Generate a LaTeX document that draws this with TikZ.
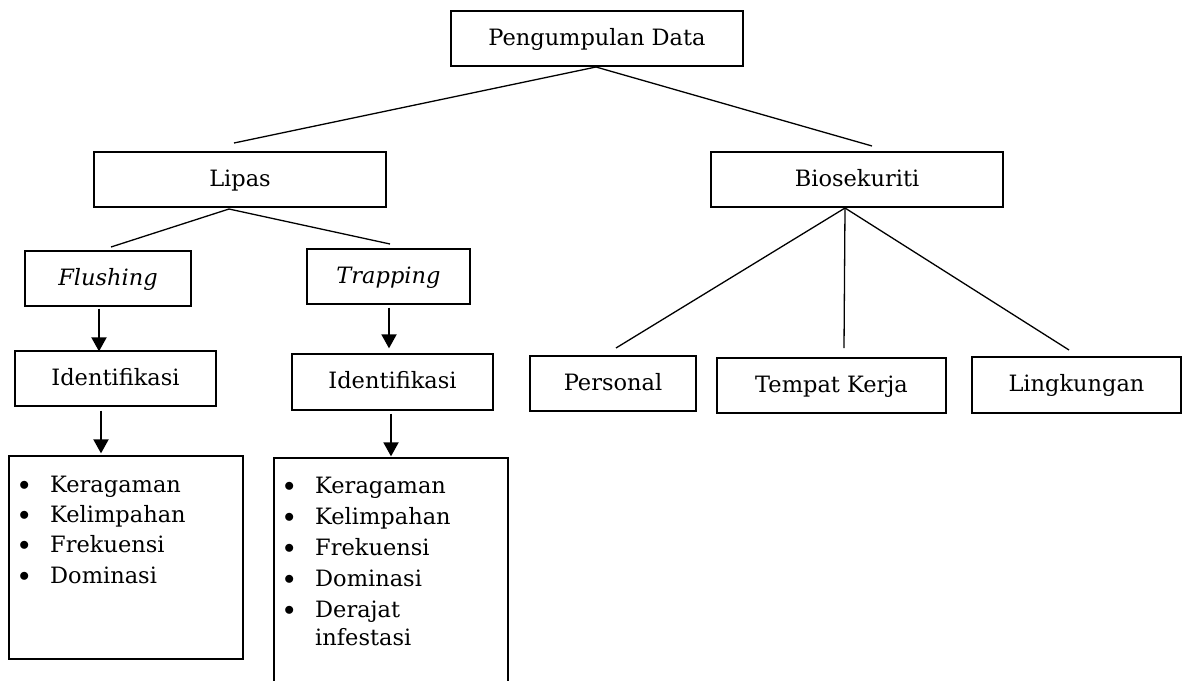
\documentclass[tikz,border=0pt]{standalone}
\usepackage{fontspec}
\setmainfont{DejaVu Serif}
\usetikzlibrary{arrows.meta,positioning}

\newcommand{\dotitem}{\makebox[31pt][l]{\raisebox{2pt}{$\bullet$}}}

\tikzset{
  box/.style={draw,line width=1.3pt,inner sep=0pt,text height=16pt,text depth=3pt},
  link/.style={line width=1.3pt},
  arr/.style={line width=1.9pt,-{Triangle[width=15pt,length=14pt]}},
  item/.style={inner sep=0pt,anchor=base west}
}

\begin{document}
\begin{tikzpicture}[x=1pt,y=-1pt,font=\fontsize{22.5}{30}\selectfont]
    \useasboundingbox (0,0) rectangle (1182,680);

    \node[box,minimum width=292pt,minimum height=55pt] (pd) at (597,38.5) {Pengumpulan Data};

    \node[box,minimum width=292pt,minimum height=55pt] (lipas) at (240,179.5) {Lipas};
    \node[box,minimum width=292pt,minimum height=55pt] (bio) at (857,179.5) {Biosekuriti};

    \node[box,minimum width=166pt,minimum height=55pt] (flush) at (108,278.5) {\itshape Flushing};
    \node[box,minimum width=163pt,minimum height=55pt] (trap) at (388.5,276.5) {\itshape Trapping};

    \node[box,minimum width=201pt,minimum height=55pt] (ident1) at (115.5,378.5) {Identifikasi};
    \node[box,minimum width=201pt,minimum height=56pt] (ident2) at (392.5,382) {Identifikasi};

    \node[box,minimum width=234pt,minimum height=203pt] (list1) at (126,557.5) {};
    \node[box,minimum width=234pt,minimum height=262pt] (list2) at (391,589) {};

    \node[box,minimum width=166pt,minimum height=55pt] (pers) at (613,383.5) {Personal};
    \node[box,minimum width=229pt,minimum height=55pt] (kerja) at (831.5,385.5) {Tempat Kerja};
    \node[box,minimum width=209pt,minimum height=56pt] (ling) at (1076.5,385) {Lingkungan};

    % ends of the plain lines
    \coordinate (pdout) at (596,67);
    \coordinate (lipasin) at (234,143);
    \coordinate (bioin) at (872,146);
    \coordinate (lipasout) at (229,209);
    \coordinate (flushin) at (111,247);
    \coordinate (trapin) at (390,244);
    \coordinate (bioout) at (845,208);
    \coordinate (persin) at (616,348);
    \coordinate (kerjain) at (844,348);
    \coordinate (lingin) at (1069,350);

    \foreach \from/\to in {pdout/lipasin,pdout/bioin,lipasout/flushin,lipasout/trapin,bioout/persin,bioout/kerjain,bioout/lingin}
        \draw[link] (\from)--(\to);

    \draw[arr] ([xshift=-9pt,yshift=-2pt]flush.south) -- ([xshift=-16.5pt,yshift=-1pt]ident1.north);
    \draw[arr] ([xshift=-14.5pt,yshift=-4pt]ident1.south) -- ([xshift=-25pt,yshift=2pt]list1.north);
    \draw[arr] ([xshift=0.5pt,yshift=-3pt]trap.south) -- ([xshift=-3.5pt,yshift=5pt]ident2.north);
    \draw[arr] ([xshift=-1.5pt,yshift=-3pt]ident2.south) -- ([xshift=0pt,yshift=1pt]list2.north);

    \foreach \t [count=\i] in {Keragaman,Kelimpahan,Frekuensi,Dominasi}
        \node[item] (fl\i) at (19,{492+30.4*(\i-1)}) {\dotitem\t};
    \foreach \t [count=\i] in {Keragaman,Kelimpahan,Frekuensi,Dominasi,Derajat}
        \node[item] (tl\i) at (284,{493+31*(\i-1)}) {\dotitem\t};
    \node[item] (tl6) at (315,645) {infestasi};
\end{tikzpicture}
\end{document}
